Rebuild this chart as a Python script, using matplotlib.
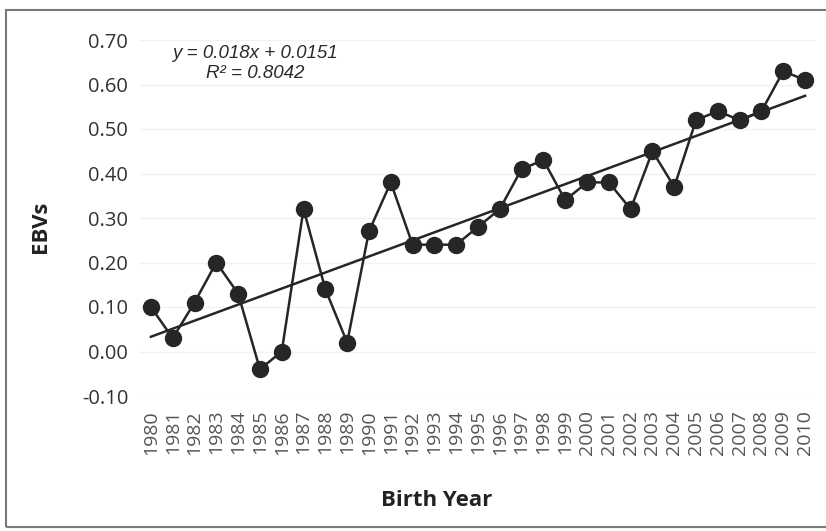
import numpy as np
import matplotlib
matplotlib.use("Agg")
import matplotlib.pyplot as plt
from matplotlib.patches import Rectangle

years = [str(y) for y in range(1980, 2011)]
ebvs = [0.10, 0.03, 0.11, 0.20, 0.13, -0.04, 0.00, 0.32, 0.14, 0.02,
        0.27, 0.38, 0.24, 0.24, 0.24, 0.28, 0.32, 0.41, 0.43, 0.34,
        0.38, 0.38, 0.32, 0.45, 0.37, 0.52, 0.54, 0.52, 0.54, 0.63, 0.61]
yticks = [-0.10, 0.00, 0.10, 0.20, 0.30, 0.40, 0.50, 0.60, 0.70]
eq_text = "y = 0.018x + 0.0151"
r2_text = "R² = 0.8042"

fig = plt.figure(figsize=(8.26, 5.31), dpi=100)
fig.patch.set_facecolor("white")
# outer chart frame
fig.patches.append(Rectangle((6/826, 4/531), 1.2, 517/531, transform=fig.transFigure,
                             fill=False, edgecolor="#7a7a7a", linewidth=1.5))

ax = fig.add_axes([140/826, 1 - 396/531, 676/826, 356/531])
x = np.arange(1, len(years) + 1)
ax.plot(x, ebvs, color="#262626", linewidth=1.8, marker="o", markersize=11.5,
        markerfacecolor="#262626", markeredgecolor="#262626", zorder=3)
coef = np.polyfit(x, ebvs, 1)
ax.plot(x, np.polyval(coef, x), color="#262626", linewidth=1.8, zorder=2)

ax.set_xlim(0.5, len(years) + 0.5)
ax.set_ylim(-0.10, 0.70)
ax.set_yticks(yticks)
ax.set_yticklabels([f"{v:.2f}" for v in yticks], fontsize=14.5, color="#333333",
                   fontfamily="Open Sans")
ax.set_xticks(x)
ax.set_xticklabels(years, rotation=90, fontsize=14, color="#555555", fontfamily="Open Sans")
ax.tick_params(axis="y", length=0, pad=8.5)
ax.tick_params(axis="x", length=0, pad=10)
for s in ax.spines.values():
    s.set_visible(False)
ax.grid(axis="y", color="#f2f2f2", linewidth=1)
ax.set_axisbelow(True)

fig.text(255/826, 1 - 53/531, eq_text, ha="center", va="center",
         fontsize=13.5, style="italic", color="#2a2a2a", fontfamily="Liberation Sans")
fig.text(255/826, 1 - 73/531, r2_text, ha="center", va="center",
         fontsize=13.5, style="italic", color="#2a2a2a", fontfamily="Liberation Sans")

fig.text(41/826, 1 - 227/531, "EBVs", rotation=90, ha="center", va="center",
         fontsize=16, fontweight="bold", color="#222222", fontfamily="Open Sans")
fig.text(437/826, 1 - 500/531, "Birth Year", ha="center", va="center",
         fontsize=16, fontweight="bold", color="#222222", fontfamily="Open Sans")

fig.savefig("out.png", dpi=100)
